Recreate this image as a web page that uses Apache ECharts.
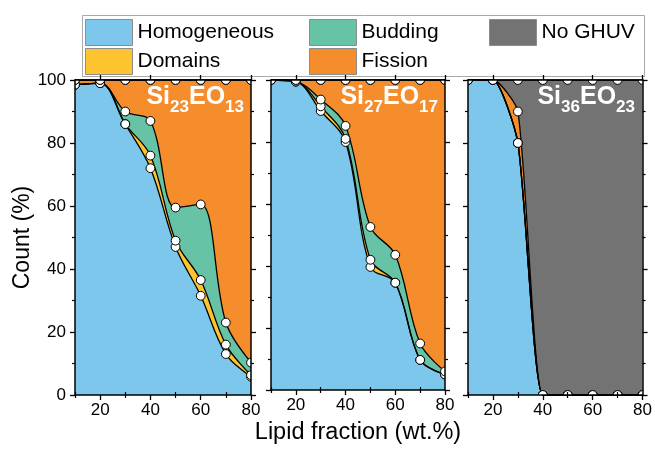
<!DOCTYPE html>
<html><head><meta charset="utf-8">
<script src="https://cdn.jsdelivr.net/npm/echarts@6/dist/echarts.min.js"></script>
<style>html,body{margin:0;padding:0;background:#fff}#c{width:655px;height:450px}</style>
</head><body><div id="c"></div>
<script>
// ---- data ----
const xValues = [10, 20, 30, 40, 50, 60, 70, 80];
const seriesNames = ['Homogeneous', 'Domains', 'Budding', 'Fission', 'No GHUV'];
const xTickLabels = [20, 40, 60, 80];

// Panel 1: Si23EO13
const p1Homogeneous = [98.5, 99, 86, 72, 47, 31.5, 13, 5.8];
const p1Domains     = [0, 0, 0, 4, 2, 5, 3, 0.5];
const p1Budding     = [0, 0, 4, 11, 10.5, 24, 7, 4];
const p1Fission     = [1.5, 1, 10, 13, 40.5, 39.5, 77, 89.7];
const p1NoGHUV      = [0, 0, 0, 0, 0, 0, 0, 0];

// Panel 2: Si27EO17
const p2Homogeneous = [100, 99.5, 90, 80, 39.7, 34.6, 9.7, 5];
const p2Domains     = [0, 0, 1.5, 1, 2.3, 0, 0, 0];
const p2Budding     = [0, 0, 2.2, 4.2, 10.6, 9, 5.3, 1];
const p2Fission     = [0, 0.5, 6.3, 14.8, 47.4, 56.4, 85, 94];
const p2NoGHUV      = [0, 0, 0, 0, 0, 0, 0, 0];

// Panel 3: Si36EO23
const p3Homogeneous = [100, 100, 80, 0, 0, 0, 0, 0];
const p3Domains     = [0, 0, 0, 0, 0, 0, 0, 0];
const p3Budding     = [0, 0, 0, 0, 0, 0, 0, 0];
const p3Fission     = [0, 0, 10, 0, 0, 0, 0, 0];
const p3NoGHUV      = [0, 0, 10, 100, 100, 100, 100, 100];

const panelTitles = [
  '{a|Si}{b|23}{a|EO}{b|13}',
  '{a|Si}{b|27}{a|EO}{b|17}',
  '{a|Si}{b|36}{a|EO}{b|23}'
];
const panelData = [
  [p1Homogeneous, p1Domains, p1Budding, p1Fission, p1NoGHUV],
  [p2Homogeneous, p2Domains, p2Budding, p2Fission, p2NoGHUV],
  [p3Homogeneous, p3Domains, p3Budding, p3Fission, p3NoGHUV]
];

// ---- styles ----
const colors = ['#7DC7EC', '#FEC42F', '#67C3A5', '#F68D2D', '#737373'];
const FONT = 'Liberation Sans, Arial, sans-serif';
const grids = [
  {left: 75, top: 80, width: 176, height: 315},
  {left: 271, top: 80, width: 174, height: 315},
  {left: 468, top: 80, width: 176, height: 315}
];
const titleRight = [411, 217, 20];
const smoothByPanel = [0.35, 0.35, 0.2];

const isMajor = (idx) => xTickLabels.indexOf(xValues[idx]) >= 0;
const xAxes = [], yAxes = [], series = [], titles = [];
const blk = {color: '#000', width: 1.5};
const cats = xValues.map(String);

grids.forEach((g, gi) => {
  const base = {gridIndex: gi, type: 'category', data: cats, boundaryGap: false,
    splitLine: {show: false}, z: 10};
  // bottom main
  xAxes.push(Object.assign({}, base, {
    position: 'bottom',
    axisLine: {show: true, onZero: false, lineStyle: blk},
    axisTick: {show: true, interval: (i) => isMajor(i), length: 5, lineStyle: {color: '#000', width: 1.3}},
    axisLabel: {show: true, interval: (i) => isMajor(i), fontSize: 17, color: '#000', fontFamily: FONT, margin: 7},
    name: gi === 1 ? 'Lipid fraction (wt.%)' : '',
    nameLocation: 'middle', nameGap: 31,
    nameTextStyle: {fontSize: 23.5, color: '#000', fontFamily: FONT}
  }));
  // bottom minor
  xAxes.push(Object.assign({}, base, {
    position: 'bottom',
    axisLine: {show: false},
    axisTick: {show: true, interval: (i) => !isMajor(i), length: 3, lineStyle: {color: '#000', width: 1.2}},
    axisLabel: {show: false}
  }));
  // top main
  xAxes.push(Object.assign({}, base, {
    position: 'top',
    axisLine: {show: true, onZero: false, lineStyle: blk},
    axisTick: {show: true, interval: (i) => isMajor(i), length: 5, lineStyle: {color: '#000', width: 1.3}},
    axisLabel: {show: false}
  }));
  // top minor
  xAxes.push(Object.assign({}, base, {
    position: 'top',
    axisLine: {show: false},
    axisTick: {show: true, interval: (i) => !isMajor(i), length: 3, lineStyle: {color: '#000', width: 1.2}},
    axisLabel: {show: false}
  }));

  const ybase = {gridIndex: gi, type: 'value', min: 0, max: 100, interval: 20, z: 10,
    splitLine: {show: false}, minorSplitLine: {show: false},
    axisLine: {show: true, onZero: false, lineStyle: blk},
    axisTick: {show: true, length: 5, lineStyle: {color: '#000', width: 1.3}},
    minorTick: {show: true, splitNumber: 2, length: 3, lineStyle: {color: '#000', width: 1.2}}};
  yAxes.push(Object.assign({}, ybase, {
    position: 'left',
    axisLabel: {show: gi === 0, fontSize: 17, color: '#000', fontFamily: FONT, margin: 9},
    name: gi === 0 ? 'Count (%)' : '',
    nameLocation: 'middle', nameGap: 40,
    nameTextStyle: {fontSize: 23, color: '#000', fontFamily: FONT}
  }));
  yAxes.push(Object.assign({}, ybase, {
    position: 'right',
    axisLabel: {show: false}
  }));

  const xi = gi * 4, yi = gi * 2;
  const dataSets = panelData[gi];
  const sm = smoothByPanel[gi];
  // area layer
  dataSets.forEach((vals, k) => {
    series.push({
      type: 'line', name: seriesNames[k], xAxisIndex: xi, yAxisIndex: yi,
      stack: 'area' + gi, smooth: sm, symbol: 'none', silent: true,
      color: colors[k],
      lineStyle: {width: 0, opacity: 0},
      areaStyle: {color: colors[k], opacity: 1},
      z: 2,
      data: vals.slice()
    });
  });
  // boundary lines
  dataSets.forEach((vals, k) => {
    series.push({
      type: 'line', name: seriesNames[k], xAxisIndex: xi, yAxisIndex: yi,
      stack: 'line' + gi, smooth: sm, symbol: 'none', silent: true,
      color: colors[k],
      lineStyle: {color: '#000', width: 1.3},
      z: 3,
      data: vals.slice()
    });
  });
  // markers at the cumulative (stacked) values, clipped to the plot area
  const markRows = xValues.map((x, i) => {
    let acc = 0;
    const row = [i];
    dataSets.forEach(vals => { acc += vals[i]; row.push(acc); });
    return row;
  });
  series.push({
    type: 'custom', xAxisIndex: xi, yAxisIndex: yi, clip: true, silent: true, z: 4,
    encode: {x: 0, y: [1, 2, 3, 4, 5]},
    data: markRows,
    renderItem: (params, api) => {
      const children = [];
      for (let k = 1; k <= dataSets.length; k++) {
        const p = api.coord([api.value(0), api.value(k)]);
        children.push({type: 'circle', shape: {cx: p[0], cy: p[1], r: 4.4},
          style: {fill: '#fff', stroke: '#000', lineWidth: 1}});
      }
      return {type: 'group', children: children};
    }
  });

  titles.push({
    text: panelTitles[gi], right: titleRight[gi], top: 85, padding: 0,
    textStyle: {
      rich: {
        a: {fontSize: 25, fontWeight: 'bold', color: '#fff', fontFamily: FONT, lineHeight: 26, verticalAlign: 'top'},
        b: {fontSize: 17, fontWeight: 'bold', color: '#fff', fontFamily: FONT, lineHeight: 17, padding: [14, 0, 0, 0], verticalAlign: 'top'}
      }
    }
  });
});

function legendItems(idxs) {
  return idxs.map(k => ({name: seriesNames[k], itemStyle: {color: colors[k], borderColor: '#8c8c8c', borderWidth: 1}}));
}
const legendBase = {orient: 'vertical', top: 19, padding: 0, itemWidth: 47, itemHeight: 26, itemGap: 2,
  icon: 'rect', selectedMode: false,
  textStyle: {fontSize: 21, color: '#000', fontFamily: FONT}};

const option = {
  animation: false,
  backgroundColor: '#fff',
  title: titles,
  grid: grids,
  xAxis: xAxes,
  yAxis: yAxes,
  legend: [
    Object.assign({}, legendBase, {left: 85, data: legendItems([0, 1])}),
    Object.assign({}, legendBase, {left: 309, data: legendItems([2, 3])}),
    Object.assign({}, legendBase, {left: 489, data: legendItems([4])})
  ],
  graphic: [{
    type: 'rect', silent: true, z: -1,
    shape: {x: 82.5, y: 15.5, width: 562, height: 61},
    style: {fill: 'none', stroke: '#a8a8a8', lineWidth: 1}
  }],
  series: series
};
const chart = echarts.init(document.getElementById('c'), null, {renderer: 'canvas'});
chart.setOption(option);
</script>
</body></html>
